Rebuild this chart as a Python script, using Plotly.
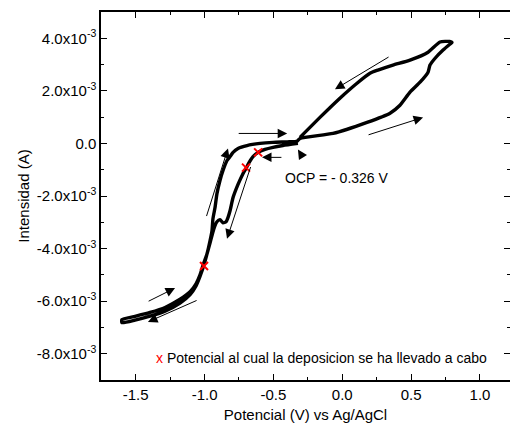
import plotly.graph_objects as go
import numpy as np

# ---------------- data (potential in V, current in mA -> converted to A) -------------
# cathodic scan starting at OCP going negative (inner branch, with shoulder)
cath_E = [-0.322, -0.431, -0.503, -0.561, -0.611, -0.648, -0.677, -0.699, -0.721, -0.757,
          -0.793, -0.815, -0.830, -0.844, -0.866, -0.888, -0.910, -0.932, -0.960, -0.982,
          -1.004, -1.033, -1.062, -1.105, -1.178, -1.287, -1.396, -1.505, -1.600]
cath_I = [0.00, -0.08, -0.15, -0.23, -0.34, -0.50, -0.73, -0.95, -1.15, -1.56,
          -2.06, -2.56, -2.82, -2.98, -3.02, -2.90, -2.98, -3.24, -3.78, -4.20,
          -4.62, -5.06, -5.42, -5.75, -6.07, -6.38, -6.57, -6.72, -6.82]
# anodic return from -1.6 V to OCP (outer branch)
anod_E = [-1.600, -1.505, -1.396, -1.287, -1.178, -1.105, -1.062, -1.033, -1.010, -0.982,
          -0.960, -0.946, -0.939, -0.924, -0.910, -0.888, -0.866, -0.837, -0.815, -0.793,
          -0.757, -0.692, -0.597, -0.503, -0.400, -0.329]
anod_I = [-6.70, -6.58, -6.43, -6.24, -5.93, -5.64, -5.34, -5.00, -4.62, -4.20,
          -3.70, -3.32, -2.86, -2.44, -1.91, -1.41, -1.03, -0.65, -0.50, -0.34,
          -0.19, -0.08, 0.00, 0.04, 0.06, 0.08]
# anodic scan above OCP (lower branch of loop)
loop_fwd_E = [-0.307, -0.067, 0.180, 0.347, 0.419, 0.492, 0.565, 0.623, 0.637, 0.674,
              0.732, 0.783, 0.797]
loop_fwd_I = [0.19, 0.38, 0.80, 1.15, 1.45, 1.95, 2.33, 2.71, 2.98, 3.24,
              3.55, 3.78, 3.84]
# reverse scan back to OCP (upper branch of loop)
loop_rev_E = [0.780, 0.710, 0.623, 0.492, 0.368, 0.259, 0.201, 0.107, -0.017, -0.162, -0.307]
loop_rev_I = [3.88, 3.86, 3.47, 3.17, 2.98, 2.79, 2.67, 2.29, 1.72, 0.99, 0.23]

# deposition potentials (red crosses)
dep_E = [-0.611, -0.699, -1.004]
dep_I = [-0.34, -0.92, -4.66]

# y tick labels
ytick_vals = [-8, -6, -4, -2, 0, 2, 4]
ytick_text = ["-8.0x10<sup>-3</sup>", "-6.0x10<sup>-3</sup>", "-4.0x10<sup>-3</sup>",
              "-2.0x10<sup>-3</sup>", "0.0", "2.0x10<sup>-3</sup>", "4.0x10<sup>-3</sup>"]
xtick_vals = [-1.5, -1.0, -0.5, 0.0, 0.5, 1.0]
xtick_text = ["-1.5", "-1.0", "-0.5", "0.0", "0.5", "1.0"]

# scan-direction arrows: (tail E, tail I, head E, head I)
arrows = [
    (0.347, 3.32, -0.053, 2.06),
    (0.180, 0.31, 0.587, 0.99),
    (-0.763, 0.38, -0.400, 0.38),
    (-0.431, -0.53, -0.583, -0.53),
    (-0.286, -0.53, -0.322, -0.23),
    (-0.989, -2.82, -0.830, -0.19),
    (-0.662, -0.84, -0.837, -3.63),
    (-1.417, -6.03, -1.214, -5.50),
    (-1.047, -5.95, -1.411, -6.79),
]

scale = 1e-3
E_all = cath_E + anod_E + loop_fwd_E + loop_rev_E
I_all = np.array(cath_I + anod_I + loop_fwd_I + loop_rev_I) * scale

FONT = "Liberation Sans, Arial, sans-serif"

fig = go.Figure()
fig.add_trace(go.Scatter(x=E_all, y=I_all, mode="lines",
                         line=dict(color="black", width=3.4, shape="spline", smoothing=0.5),
                         showlegend=False, hoverinfo="skip"))
fig.add_trace(go.Scatter(x=dep_E, y=np.array(dep_I) * scale, mode="markers",
                         marker=dict(symbol="x-thin", size=8, color="red",
                                     line=dict(color="red", width=2)),
                         name="Potencial al cual la deposicion se ha llevado a cabo",
                         showlegend=False))

for (e0, i0, e1, i1) in arrows:
    fig.add_annotation(x=e1, y=i1 * scale, ax=e0, ay=i0 * scale,
                       xref="x", yref="y", axref="x", ayref="y",
                       showarrow=True, arrowhead=2, arrowsize=1.9, arrowwidth=1,
                       arrowcolor="black", text="")

fig.add_annotation(x=-0.431, y=-1.30 * scale, xref="x", yref="y", xanchor="left",
                   yanchor="middle", showarrow=False, text="OCP = - 0.326 V",
                   font=dict(family=FONT, size=14, color="black"))

fig.add_annotation(x=-1.37, y=-8.17 * scale, xref="x", yref="y", xanchor="left",
                   yanchor="middle", showarrow=False,
                   text="<span style='color:red'>x</span> Potencial al cual la deposicion se ha llevado a cabo",
                   font=dict(family=FONT, size=14, color="black"))

axis_common = dict(showline=True, linecolor="black", linewidth=1.5, mirror="ticks",
                   ticks="inside", ticklen=6, tickwidth=1.2, tickcolor="black",
                   showgrid=False, zeroline=False, automargin=False,
                   tickfont=dict(family=FONT, size=15, color="black"))

fig.update_xaxes(range=[-1.752, 1.218], tickvals=xtick_vals, ticktext=xtick_text,
                 minor=dict(ticks="inside", ticklen=3, dtick=0.25, tick0=0,
                            tickcolor="black", tickwidth=1.2),
                 title=dict(text="Potencial (V) vs Ag/AgCl",
                            font=dict(family=FONT, size=15, color="black"), standoff=8),
                 **axis_common)
fig.update_yaxes(range=[-9e-3, 5e-3], tickvals=np.array(ytick_vals) * scale,
                 ticktext=ytick_text,
                 minor=dict(ticks="inside", ticklen=3, dtick=1e-3, tick0=0,
                            tickcolor="black", tickwidth=1.2),
                 title=dict(text="Intensidad (A)",
                            font=dict(family=FONT, size=15, color="black"), standoff=4),
                 **axis_common)

fig.update_layout(width=510, height=434, margin=dict(l=101, r=0, t=12, b=54),
                  plot_bgcolor="white", paper_bgcolor="white",
                  font=dict(family=FONT, size=15, color="black"), showlegend=False)

fig.write_html("out.html",
               post_script="document.documentElement.style.overflow='hidden';"
                           "document.body.style.margin='0';document.body.style.overflow='hidden';")
